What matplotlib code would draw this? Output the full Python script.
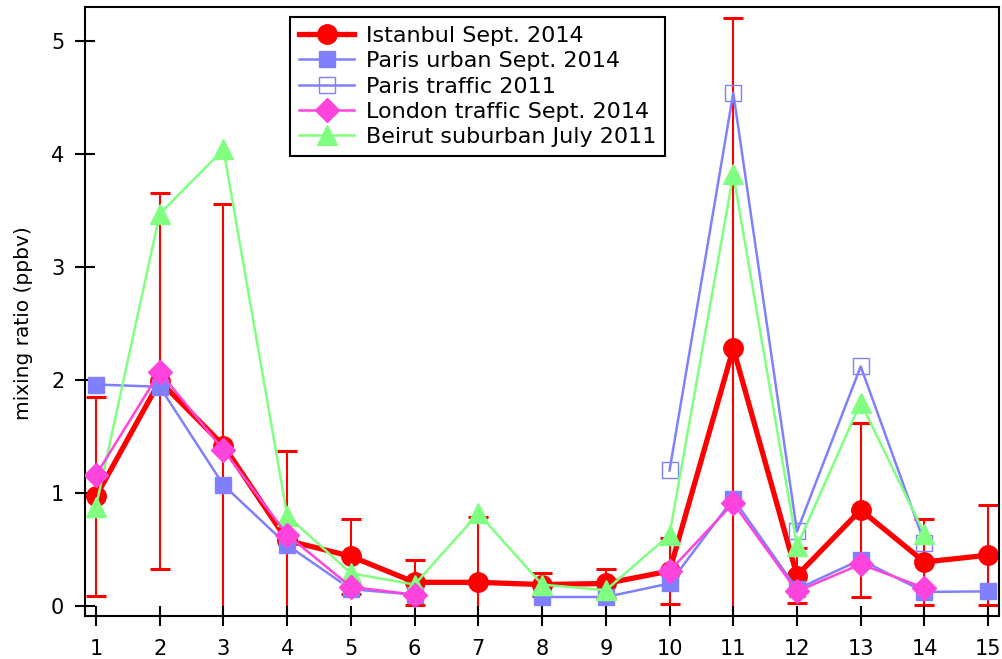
import numpy as np
import matplotlib
matplotlib.use("Agg")
import matplotlib.pyplot as plt

nan = np.nan
x = list(range(1, 16))
xticklabels = [str(i) for i in x]
yticks = [0, 1, 2, 3, 4, 5]

istanbul = [0.97, 1.99, 1.42, 0.58, 0.44, 0.21, 0.21, 0.19, 0.20, 0.31, 2.28, 0.27, 0.85, 0.39, 0.45]
istanbul_err = [0.88, 1.66, 2.14, 0.79, 0.33, 0.20, 0.58, 0.10, 0.13, 0.29, 2.92, 0.24, 0.77, 0.38, 0.44]
paris_urban = [1.96, 1.94, 1.07, 0.54, 0.15, 0.10, nan, 0.08, 0.08, 0.20, 0.95, 0.15, 0.41, 0.125, 0.13]
paris_traffic = [nan, nan, nan, nan, nan, nan, nan, nan, nan, 1.20, 4.54, 0.66, 2.12, 0.56, nan]
london = [1.16, 2.07, 1.38, 0.63, 0.17, 0.10, nan, nan, nan, 0.31, 0.91, 0.13, 0.37, 0.16, nan]
beirut = [0.88, 3.47, 4.04, 0.80, 0.29, 0.19, 0.82, 0.19, 0.14, 0.63, 3.82, 0.53, 1.80, 0.64, nan]

labels = ["Istanbul Sept. 2014", "Paris urban Sept. 2014", "Paris traffic 2011",
          "London traffic Sept. 2014", "Beirut suburban July 2011"]

plt.rcParams['font.family'] = ['DejaVu Sans']

RED = '#FF0000'
BLUE = '#8080FF'
PINK = '#FF44DD'
GREEN = '#80FF80'

fig = plt.figure(figsize=(10.03, 6.59), dpi=100)
ax = fig.add_axes([85/1003, 1-616/659, (999-85)/1003, (616-7)/659])

ax.errorbar(x, istanbul, yerr=istanbul_err, fmt='none', ecolor=RED, elinewidth=1.5,
            capsize=7.2, capthick=2.2, zorder=1)
l1, = ax.plot(x, istanbul, color=RED, lw=3.8, marker='o', ms=14, zorder=2, label=labels[0])
l2, = ax.plot(x, paris_urban, color=BLUE, lw=1.8, marker='s', ms=12, zorder=3, label=labels[1])
l3, = ax.plot(x, paris_traffic, color=BLUE, lw=1.8, marker='s', ms=12, mfc='none',
              mec=BLUE, mew=1.0, zorder=4, label=labels[2])
l4, = ax.plot(x, london, color=PINK, lw=1.8, marker='D', ms=12, zorder=6, label=labels[3])
l5, = ax.plot(x, beirut, color=GREEN, lw=1.8, marker='^', ms=14, zorder=5, label=labels[4])

ax.set_xlim(0.827, 15.17)
ax.set_ylim(-0.088, 5.30)
ax.set_xticks(x)
ax.set_xticklabels(xticklabels)
ax.set_yticks(yticks)
ax.tick_params(axis='both', direction='inout', length=13.7, width=1.5, labelsize=15)
ax.tick_params(axis='y', pad=8)
ax.tick_params(axis='x', pad=10)
for s in ax.spines.values():
    s.set_linewidth(1.5)
ax.set_ylabel('mixing ratio (ppbv)', fontsize=14.5)
ax.yaxis.set_label_coords((33-85)/914, (616-323)/609)

leg = ax.legend(handles=[l1, l2, l3, l4, l5], loc='upper left',
                bbox_to_anchor=((290-85)/914, (616-17)/609), borderaxespad=0,
                fontsize=16, fancybox=False, framealpha=1, edgecolor='black',
                handlelength=2.5, handletextpad=0.5, labelspacing=0.24, borderpad=0.4)
leg.get_frame().set_linewidth(1.5)

fig.savefig('out.png', dpi=100)
